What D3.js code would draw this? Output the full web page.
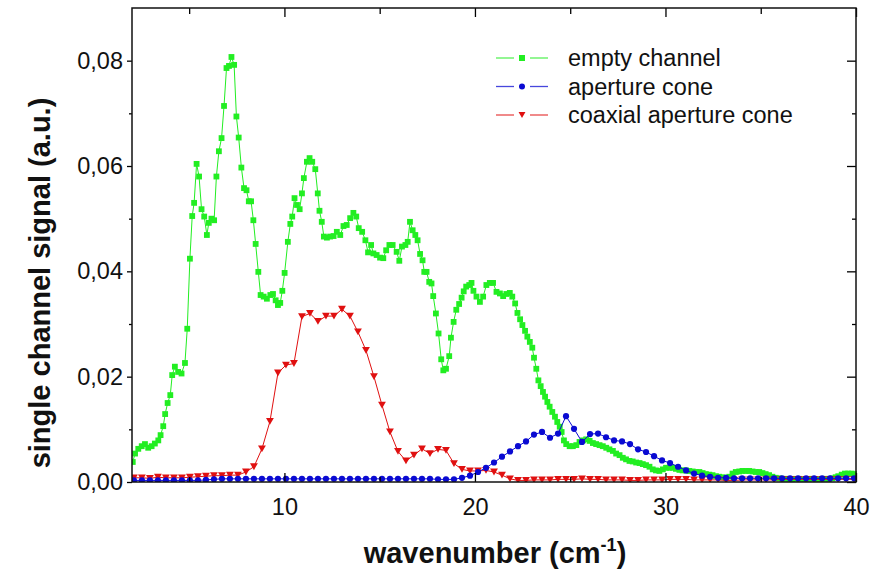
<!DOCTYPE html>
<html>
<head>
<meta charset="utf-8">
<script src="https://cdn.jsdelivr.net/npm/d3@7"></script>
<style>
  html, body { margin: 0; padding: 0; background: #fff; }
  svg { display: block; font-family: "Liberation Sans", Arial, sans-serif; }
</style>
</head>
<body>
<svg id="chart" width="884" height="574"></svg>
<script>
// Wavenumber grid shared by the two aperture measurements (cm^-1)
const gridX = [2.10,2.52,2.94,3.36,3.78,4.20,4.62,5.04,5.46,5.88,6.30,6.72,7.14,7.56,7.98,8.40,8.82,9.24,9.66,10.08,
  10.50,10.92,11.34,11.76,12.18,12.60,13.02,13.44,13.86,14.28,14.70,15.12,15.54,15.96,16.38,16.80,17.22,17.64,18.06,18.48,
  18.90,19.32,19.74,20.16,20.58,21.00,21.42,21.84,22.26,22.68,23.10,23.52,23.94,24.36,24.78,25.20,25.62,26.04,26.46,26.88,
  27.30,27.72,28.14,28.56,28.98,29.40,29.82,30.24,30.66,31.08,31.50,31.92,32.34,32.76,33.18,33.60,34.02,34.44,34.86,35.28,
  35.70,36.12,36.54,36.96,37.38,37.80,38.22,38.64,39.06,39.48,39.90];

// Coaxial aperture cone
const coaxialY = [0.0008,0.0008,0.0007,0.0009,0.0008,0.0008,0.0008,0.0009,0.0010,0.0011,0.0012,0.0012,0.0013,0.0013,
  0.0019,0.0029,0.0063,0.0115,0.0207,0.0222,0.0225,0.0314,0.0320,0.0305,0.0315,0.0315,0.0328,0.0315,0.0285,0.0250,
  0.0200,0.0146,0.0095,0.0058,0.0040,0.0051,0.0063,0.0054,0.0062,0.0060,0.0035,0.0024,0.0021,0.0021,0.0022,0.0019,
  0.0013,0.0006,0.0003,
  0.0003,0.0004,0.0004,0.0004,0.0005,0.0005,
  0.0005,0.0006,0.0005,0.0005,0.0004,0.0004,
  0.0004,0.0003,0.0003,0.0004,0.0004,0.0004,
  0.0005,0.0005,0.0005,0.0004,0.0004,0.0004,
  0.0004,0.0003,0.0003,0.0004,0.0004,0.0004,
  0.0004,0.0004,0.0005,0.0005,0.0005,0.0005,
  0.0005,0.0005,0.0005,0.0005,0.0005,0.0005];

// Aperture cone
const apertureY = [0.0003,0.0003,0.0003,0.0003,0.0003,0.0003,0.0003,0.0003,0.0003,
  0.0004,0.0005,0.0006,0.0006,0.0006,0.0006,0.0006,0.0006,0.0006,0.0006,0.0006,0.0006,0.0006,0.0006,0.0006,0.0006,
  0.0006,0.0006,0.0006,0.0006,0.0006,0.0006,0.0006,0.0006,0.0006,0.0006,0.0006,0.0006,0.0006,0.0005,0.0005,0.0005,
  0.0008,0.0012,0.0019,0.0027,0.0037,0.0048,0.0058,0.0068,0.0077,0.0090,0.0095,0.0084,0.0092,0.0125,0.0101,0.0076,
  0.0091,0.0092,0.0085,0.0079,0.0077,0.0072,0.0062,0.0057,0.0049,0.0041,0.0036,0.0029,0.0022,0.0016,0.0012,0.0010,
  0.0008,0.0008,
  0.0007,0.0007,0.0007,0.0007,0.0007,0.0007,0.0007,0.0007,0.0007,0.0007,0.0007,0.0007,0.0007,0.0007,0.0007,0.0007];

// Empty channel (finer sampling)
const emptyX = [2.04,2.16,2.33,2.51,2.68,2.85,3.03,3.20,3.38,3.50,3.64,3.74,3.87,4.01,4.11,4.25,4.42,4.60,4.78,4.90,
  5.04,5.16,5.26,5.39,5.52,5.65,5.79,5.93,6.03,6.17,6.31,6.43,6.56,6.70,6.83,6.96,7.09,7.22,7.36,7.48,
  7.60,7.74,7.88,8.01,8.13,8.25,8.37,8.49,8.63,8.75,8.91,9.08,9.26,9.40,9.54,9.66,9.78,9.89,10.01,10.18,
  10.31,10.41,10.53,10.66,10.80,10.92,11.02,11.18,11.32,11.46,11.62,11.75,11.84,11.96,12.07,12.23,12.40,12.58,12.75,12.93,
  13.10,13.27,13.45,13.62,13.77,13.90,14.08,14.25,14.39,14.55,14.67,14.84,15.02,15.19,15.34,15.51,15.68,15.89,16.03,16.17,
  16.35,16.47,16.59,16.73,16.87,16.99,17.12,17.25,17.34,17.46,17.60,17.72,17.81,17.95,18.09,18.23,18.34,18.48,18.65,18.74,
  18.88,19.02,19.17,19.30,19.41,19.54,19.70,19.82,19.92,20.08,20.26,20.43,20.60,20.78,20.95,21.13,21.31,21.48,21.65,21.83,
  21.96,22.11,22.23,22.37,22.49,22.63,22.75,22.88,23.01,23.10,23.22,23.33,23.45,23.57,23.68,23.80,23.92,24.06,24.20,24.32,
  24.45,24.55,24.67,24.79,24.97,25.14,25.32,25.49,25.67,25.84,26.02,26.19,26.36,26.54,26.71,26.89,27.06,27.24,27.41,27.59,
  27.76,27.93,28.11,28.28,28.46,28.64,28.81,28.98,29.16,29.33,29.50,29.68,29.86,30.03,30.21,30.38,30.55,30.73,30.90,31.08,
  31.25,31.43,31.60,31.78,31.95,32.12,32.30,32.47,32.65,32.82,33.00,33.17,33.35,33.52,33.69,33.87,34.04,34.22,34.39,34.57,
  34.74,34.92,35.09,35.26,35.44,35.61,35.79,35.97,36.14,36.31,36.49,36.66,36.84,37.01,37.19,37.36,37.53,37.71,37.88,38.06,
  38.24,38.41,38.58,38.76,38.93,39.07,39.25,39.42,39.59,39.77,39.91];
const emptyY = [0.0038,0.0054,0.0063,0.0068,0.0072,0.0065,0.0068,0.0073,0.0079,0.0089,0.0106,0.0129,0.0150,0.0165,0.0203,0.0219,0.0209,0.0206,0.0226,0.0291,
  0.0424,0.0505,0.0530,0.0604,0.0580,0.0518,0.0504,0.0469,0.0492,0.0500,0.0497,0.0580,0.0628,0.0653,0.0714,0.0786,0.0790,0.0807,0.0792,0.0694,
  0.0654,0.0597,0.0558,0.0554,0.0533,0.0533,0.0497,0.0452,0.0399,0.0355,0.0352,0.0348,0.0355,0.0357,0.0345,0.0336,0.0340,0.0363,0.0397,0.0456,
  0.0490,0.0504,0.0539,0.0526,0.0518,0.0548,0.0577,0.0608,0.0615,0.0608,0.0594,0.0548,0.0515,0.0494,0.0466,0.0464,0.0466,0.0467,0.0475,0.0469,
  0.0486,0.0488,0.0501,0.0511,0.0504,0.0482,0.0475,0.0459,0.0436,0.0450,0.0434,0.0431,0.0426,0.0425,0.0440,0.0450,0.0450,0.0437,0.0420,0.0447,
  0.0450,0.0456,0.0494,0.0478,0.0469,0.0459,0.0433,0.0421,0.0399,0.0399,0.0380,0.0377,0.0353,0.0320,0.0282,0.0233,0.0212,0.0215,0.0239,0.0274,
  0.0304,0.0327,0.0338,0.0350,0.0362,0.0371,0.0374,0.0378,0.0363,0.0352,0.0342,0.0352,0.0374,0.0378,0.0378,0.0361,0.0358,0.0353,0.0357,0.0359,
  0.0352,0.0339,0.0321,0.0309,0.0298,0.0287,0.0276,0.0266,0.0255,0.0236,0.0215,0.0193,0.0182,0.0171,0.0162,0.0152,0.0143,0.0133,0.0124,0.0114,
  0.0105,0.0095,0.0079,0.0072,0.0068,0.0068,0.0070,0.0076,0.0079,0.0081,0.0078,0.0074,0.0072,0.0070,0.0068,0.0065,0.0062,0.0059,0.0054,0.0051,
  0.0046,0.0043,0.0040,0.0039,0.0037,0.0036,0.0034,0.0032,0.0029,0.0024,0.0022,0.0021,0.0024,0.0027,0.0027,0.0027,0.0025,0.0023,0.0022,0.0022,
  0.0021,0.0020,0.0019,0.0019,0.0017,0.0015,0.0014,0.0013,0.0011,0.0010,0.0009,0.0008,0.0010,0.0016,0.0019,0.0020,0.0021,0.0021,0.0021,0.0020,
  0.0019,0.0019,0.0017,0.0015,0.0013,0.0010,0.0008,0.0007,0.0006,0.0006,0.0006,0.0005,0.0006,0.0006,0.0005,0.0005,0.0006,0.0006,0.0005,0.0005,
  0.0006,0.0006,0.0006,0.0007,0.0009,0.0011,0.0014,0.0016,0.0016,0.0016,0.0015];

const seriesNames = ["empty channel", "aperture cone", "coaxial aperture cone"];
const xMajorTicks = [10, 20, 30, 40];
const xMinorTicks = [5, 15, 25, 35];
const yMajorTicks = [0, 0.02, 0.04, 0.06, 0.08];
const yMinorTicks = [0.01, 0.03, 0.05, 0.07];
const xTitle = "wavenumber (cm";
const xTitleSup = "-1";
const yTitle = "single channel signal (a.u.)";

const svg = d3.select("#chart");
const plot = { left: 132, right: 856, top: 8, bottom: 482 };

const x = d3.scaleLinear().domain([2, 40]).range([plot.left, plot.right]);
const y = d3.scaleLinear().domain([0, 0.09]).range([plot.bottom, plot.top]);

const styles = [
  { name: seriesNames[0], color: "#22ee22", shape: "square" },
  { name: seriesNames[1], color: "#0a0ad2", shape: "circle" },
  { name: seriesNames[2], color: "#e01010", shape: "triangle" }
];

const data = [
  emptyX.map((v, i) => [v, emptyY[i]]),
  gridX.map((v, i) => [v, apertureY[i]]),
  gridX.map((v, i) => [v, coaxialY[i]])
];

function drawMarker(g, shape, color, cx, cy, s) {
  if (shape === "square") {
    g.append("rect").attr("x", cx - s / 2).attr("y", cy - s / 2)
      .attr("width", s).attr("height", s).attr("fill", color);
  } else if (shape === "circle") {
    g.append("circle").attr("cx", cx).attr("cy", cy).attr("r", s / 2).attr("fill", color);
  } else {
    const w = s * 1.15, h = s;
    g.append("path")
      .attr("d", `M${cx - w / 2},${cy - h / 2}L${cx + w / 2},${cy - h / 2}L${cx},${cy + h / 2}Z`)
      .attr("fill", color);
  }
}

// clip so nothing spills past the frame
svg.append("defs").append("clipPath").attr("id", "plotClip")
  .append("rect").attr("x", plot.left).attr("y", plot.top - 4)
  .attr("width", plot.right - plot.left + 1).attr("height", plot.bottom - plot.top + 4);

const line = d3.line().x(d => x(d[0])).y(d => y(d[1]));
const markerSize = [5.8, 6.2, 6.8];

// draw order: empty channel, coaxial, aperture
[0, 2, 1].forEach(k => {
  const g = svg.append("g").attr("clip-path", "url(#plotClip)");
  g.append("path").datum(data[k]).attr("d", line)
    .attr("fill", "none").attr("stroke", styles[k].color).attr("stroke-width", 1);
  data[k].forEach(d => drawMarker(g, styles[k].shape, styles[k].color, x(d[0]), y(d[1]), markerSize[k]));
});

// axes
const fmt = d => d3.format(".2f")(d).replace(".", ",");
const tickFont = 23.5;

function styleAxis(g) {
  g.select(".domain").remove();
  g.selectAll("line").attr("stroke", "#000").attr("stroke-width", 1.3);
  g.selectAll("text").attr("fill", "#111").attr("font-size", tickFont)
    .attr("font-family", "'Liberation Sans', Arial, sans-serif");
}

const axisG = svg.append("g");
axisG.append("g").attr("transform", `translate(0,${plot.bottom})`)
  .call(d3.axisBottom(x).tickValues(xMajorTicks).tickSize(-9).tickPadding(16).tickFormat(d3.format("d")))
  .call(styleAxis);
axisG.append("g").attr("transform", `translate(0,${plot.bottom})`)
  .call(d3.axisBottom(x).tickValues(xMinorTicks).tickSize(-5).tickFormat(""))
  .call(styleAxis);
axisG.append("g").attr("transform", `translate(0,${plot.top})`)
  .call(d3.axisTop(x).tickValues(xMajorTicks).tickSize(-9).tickFormat(""))
  .call(styleAxis);
axisG.append("g").attr("transform", `translate(0,${plot.top})`)
  .call(d3.axisTop(x).tickValues(xMinorTicks).tickSize(-6).tickFormat(""))
  .call(styleAxis);
axisG.append("g").attr("transform", `translate(${plot.left},0)`)
  .call(d3.axisLeft(y).tickValues(yMajorTicks).tickSize(5).tickPadding(4).tickFormat(fmt))
  .call(styleAxis);
axisG.append("g").attr("transform", `translate(${plot.left},0)`)
  .call(d3.axisLeft(y).tickValues(yMinorTicks).tickSize(3).tickFormat(""))
  .call(styleAxis);
axisG.append("g").attr("transform", `translate(${plot.right},0)`)
  .call(d3.axisRight(y).tickValues(yMajorTicks).tickSize(-9).tickFormat(""))
  .call(styleAxis);
axisG.append("g").attr("transform", `translate(${plot.right},0)`)
  .call(d3.axisRight(y).tickValues(yMinorTicks).tickSize(-4).tickFormat(""))
  .call(styleAxis);

// frame
svg.append("rect").attr("x", plot.left).attr("y", plot.top)
  .attr("width", plot.right - plot.left).attr("height", plot.bottom - plot.top)
  .attr("fill", "none").attr("stroke", "#111").attr("stroke-width", 1.5);

// axis titles
const xt = svg.append("text").attr("x", 495).attr("y", 563).attr("text-anchor", "middle")
  .attr("font-size", 29).attr("font-weight", "bold").attr("fill", "#111");
xt.append("tspan").text(xTitle);
xt.append("tspan").attr("dy", -12).attr("font-size", 18).text(xTitleSup);
xt.append("tspan").attr("dy", 12).text(")");

svg.append("text").attr("transform", "translate(50,283) rotate(-90)")
  .attr("text-anchor", "middle").attr("font-size", 29).attr("font-weight", "bold")
  .attr("fill", "#111").text(yTitle);

// legend
const legend = svg.append("g");
const rowsY = [58, 86.5, 115];
styles.forEach((s, i) => {
  const g = legend.append("g");
  g.append("line").attr("x1", 496).attr("x2", 514).attr("y1", rowsY[i]).attr("y2", rowsY[i])
    .attr("stroke", s.color).attr("stroke-width", 1.3).attr("opacity", 0.75);
  g.append("line").attr("x1", 530).attr("x2", 548).attr("y1", rowsY[i]).attr("y2", rowsY[i])
    .attr("stroke", s.color).attr("stroke-width", 1.3).attr("opacity", 0.75);
  drawMarker(g, s.shape, s.color, 522, rowsY[i], 6);
  g.append("text").attr("x", 568).attr("y", rowsY[i]).attr("dy", "0.35em")
    .attr("font-size", tickFont).attr("fill", "#111").text(s.name);
});
</script>
</body>
</html>
